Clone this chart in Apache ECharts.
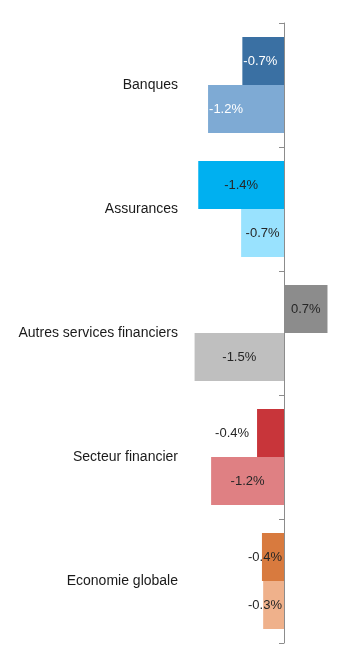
<!DOCTYPE html>
<html>
<head>
<meta charset="utf-8">
<script src="https://cdn.jsdelivr.net/npm/echarts@6/dist/echarts.min.js"></script>
<style>
    html, body { margin: 0; padding: 0; background: #fff; }
    #chart { width: 350px; height: 659px; }
</style>
</head>
<body>
<div id="chart"></div>
<script>
const categories = ["Banques", "Assurances", "Autres services financiers", "Secteur financier", "Economie globale"];
const firstValues = [-0.68, -1.40, 0.71, -0.44, -0.36];
const secondValues = [-1.24, -0.70, -1.46, -1.19, -0.34];
const firstColors = ["#3a70a3", "#00b0f0", "#8c8c8c", "#c8353a", "#d87a3e"];
const secondColors = ["#7eaad4", "#99e2fe", "#bfbfbf", "#df8083", "#efb18b"];
// label placement per bar
const firstPos = ["insideLeft", "inside", "inside", "left", "insideRight"];
const secondPos = ["insideLeft", "inside", "inside", "inside", "insideRight"];
const firstDist = [1, 1, 1, 8, 2];
const secondDist = [1, 1, 1, 1, 2];
const firstText = ["#fff", "#262626", "#262626", "#262626", "#262626"];
const secondText = ["#fff", "#262626", "#262626", "#262626", "#262626"];

const fmt = (p) => p.value.toFixed(1) + "%";

const buildData = (values, colors, pos, dist, text) =>
    values.map((v, i) => ({
        value: v,
        itemStyle: { color: colors[i] },
        label: { position: pos[i], color: text[i], distance: dist[i] },
    }));

let chart = echarts.init(document.getElementById("chart"));
chart.setOption({
    animation: false,
    textStyle: { fontFamily: "Liberation Sans, Arial, sans-serif" },
    grid: {
        left: 186,
        right: 17,
        top: 23,
        bottom: 16,
        containLabel: false,
        outerBoundsMode: "none",
    },
    xAxis: {
        type: "value",
        min: -1.6,
        max: 0.8,
        show: false,
        splitLine: { show: false },
    },
    yAxis: {
        type: "category",
        inverse: true,
        data: categories,
        axisLine: { show: true, onZero: true, lineStyle: { color: "#8c8c8c", width: 1 } },
        axisTick: { show: true, length: 5, lineStyle: { color: "#8c8c8c" } },
        axisLabel: { margin: 8, color: "#1a1a1a", fontSize: 14 },
    },
    series: [
        {
            type: "bar",
            data: buildData(firstValues, firstColors, firstPos, firstDist, firstText),
            barGap: "0%",
            barCategoryGap: "22.6%",
            label: { show: true, fontSize: 13, formatter: fmt },
        },
        {
            type: "bar",
            data: buildData(secondValues, secondColors, secondPos, secondDist, secondText),
            barGap: "0%",
            barCategoryGap: "22.6%",
            label: { show: true, fontSize: 13, formatter: fmt },
        },
    ],
});
</script>
</body>
</html>
